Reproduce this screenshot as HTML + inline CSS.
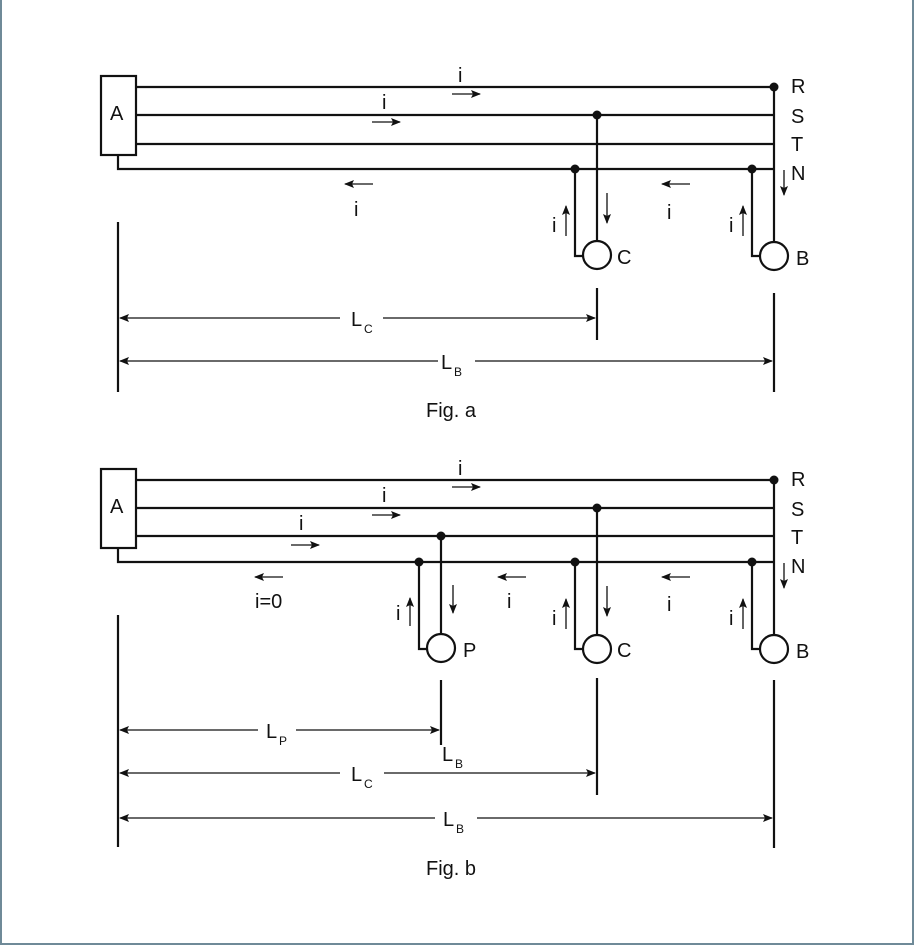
<!DOCTYPE html>
<html><head><style>
html,body{margin:0;padding:0;background:#fff}
.w{position:relative;width:910px;height:943px;border-left:2px solid #6f8a98;border-right:2px solid #6f8a98;border-bottom:2px solid #6f8a98;}
svg{position:absolute;left:-2px;top:0}
text{font-family:"Liberation Sans",sans-serif;font-size:20px;fill:#111}
</style></head><body><div class="w">
<svg width="914" height="945" viewBox="0 0 914 945">
<defs>
<marker id="ah" markerWidth="10" markerHeight="8" refX="9" refY="4" orient="auto" markerUnits="userSpaceOnUse"><path d="M0,0 L10,4 L0,8 L2,4 Z" fill="#111"/></marker>
</defs>
<g stroke="#111" stroke-width="2.2" fill="none">
<!-- Fig a -->
<rect x="101" y="76" width="35" height="79" fill="#fff"/>
<line x1="136" y1="87" x2="774" y2="87"/>
<line x1="136" y1="115" x2="774" y2="115"/>
<line x1="136" y1="144" x2="774" y2="144"/>
<polyline points="118,155 118,169 774,169"/>
<line x1="774" y1="87" x2="774" y2="242"/>
<line x1="597" y1="115" x2="597" y2="241"/>
<circle cx="597" cy="255" r="14"/>
<circle cx="774" cy="256" r="14"/>
<polyline points="575,169 575,256 583,256"/>
<polyline points="752,169 752,256 760,256"/>
<line x1="118" y1="222" x2="118" y2="392"/>
<line x1="597" y1="288" x2="597" y2="340"/>
<line x1="774" y1="293" x2="774" y2="392"/>
<!-- Fig b -->
<rect x="101" y="469" width="35" height="79" fill="#fff"/>
<line x1="136" y1="480" x2="774" y2="480"/>
<line x1="136" y1="508" x2="774" y2="508"/>
<line x1="136" y1="536" x2="774" y2="536"/>
<polyline points="118,548 118,562 774,562"/>
<line x1="774" y1="480" x2="774" y2="635"/>
<line x1="597" y1="508" x2="597" y2="634"/>
<line x1="441" y1="536" x2="441" y2="634"/>
<circle cx="441" cy="648" r="14"/>
<circle cx="597" cy="649" r="14"/>
<circle cx="774" cy="649" r="14"/>
<polyline points="419,562 419,649 427,649"/>
<polyline points="575,562 575,649 583,649"/>
<polyline points="752,562 752,649 760,649"/>
<line x1="118" y1="615" x2="118" y2="847"/>
<line x1="441" y1="680" x2="441" y2="745"/>
<line x1="597" y1="678" x2="597" y2="795"/>
<line x1="774" y1="680" x2="774" y2="848"/>
</g>
<g fill="#111">
<circle cx="774" cy="87" r="4.5"/><circle cx="597" cy="115" r="4.5"/><circle cx="575" cy="169" r="4.5"/><circle cx="752" cy="169" r="4.5"/>
<circle cx="774" cy="480" r="4.5"/><circle cx="597" cy="508" r="4.5"/><circle cx="441" cy="536" r="4.5"/><circle cx="419" cy="562" r="4.5"/><circle cx="575" cy="562" r="4.5"/><circle cx="752" cy="562" r="4.5"/>
</g>
<g stroke="#111" stroke-width="1.3" marker-end="url(#ah)">
<!-- fig a arrows -->
<line x1="452" y1="94" x2="480" y2="94"/>
<line x1="372" y1="122" x2="400" y2="122"/>
<line x1="373" y1="184" x2="345" y2="184"/>
<line x1="690" y1="184" x2="662" y2="184"/>
<line x1="607" y1="193" x2="607" y2="223"/>
<line x1="784" y1="170" x2="784" y2="195"/>
<line x1="566" y1="236" x2="566" y2="206"/>
<line x1="743" y1="236" x2="743" y2="206"/>
<line x1="340" y1="318" x2="120" y2="318"/>
<line x1="383" y1="318" x2="595" y2="318"/>
<line x1="438" y1="361" x2="120" y2="361"/>
<line x1="475" y1="361" x2="772" y2="361"/>
<!-- fig b arrows -->
<line x1="452" y1="487" x2="480" y2="487"/>
<line x1="372" y1="515" x2="400" y2="515"/>
<line x1="291" y1="545" x2="319" y2="545"/>
<line x1="283" y1="577" x2="255" y2="577"/>
<line x1="526" y1="577" x2="498" y2="577"/>
<line x1="690" y1="577" x2="662" y2="577"/>
<line x1="453" y1="585" x2="453" y2="613"/>
<line x1="607" y1="586" x2="607" y2="616"/>
<line x1="784" y1="563" x2="784" y2="588"/>
<line x1="410" y1="626" x2="410" y2="598"/>
<line x1="566" y1="629" x2="566" y2="599"/>
<line x1="743" y1="629" x2="743" y2="599"/>
<line x1="258" y1="730" x2="120" y2="730"/>
<line x1="296" y1="730" x2="439" y2="730"/>
<line x1="340" y1="773" x2="120" y2="773"/>
<line x1="384" y1="773" x2="595" y2="773"/>
<line x1="435" y1="818" x2="120" y2="818"/>
<line x1="477" y1="818" x2="772" y2="818"/>
</g>
<g>
<text x="110" y="120">A</text>
<text x="458" y="82">i</text><text x="382" y="109">i</text><text x="354" y="216">i</text><text x="667" y="219">i</text>
<text x="552" y="232">i</text><text x="729" y="232">i</text>
<text x="791" y="93">R</text><text x="791" y="123">S</text><text x="791" y="151">T</text><text x="791" y="180">N</text>
<text x="617" y="264">C</text><text x="796" y="265">B</text>
<text x="351" y="326">L</text><text x="364" y="333" style="font-size:12px">C</text>
<text x="441" y="369">L</text><text x="454" y="376" style="font-size:12px">B</text>
<text x="426" y="417">Fig. a</text>

<text x="110" y="513">A</text>
<text x="458" y="475">i</text><text x="382" y="502">i</text><text x="299" y="530">i</text>
<text x="255" y="608">i=0</text><text x="507" y="608">i</text><text x="667" y="611">i</text>
<text x="396" y="620">i</text><text x="552" y="625">i</text><text x="729" y="625">i</text>
<text x="791" y="486">R</text><text x="791" y="516">S</text><text x="791" y="544">T</text><text x="791" y="573">N</text>
<text x="463" y="657">P</text><text x="617" y="657">C</text><text x="796" y="658">B</text>
<text x="266" y="738">L</text><text x="279" y="745" style="font-size:12px">P</text>
<text x="442" y="761">L</text><text x="455" y="768" style="font-size:12px">B</text>
<text x="351" y="781">L</text><text x="364" y="788" style="font-size:12px">C</text>
<text x="443" y="826">L</text><text x="456" y="833" style="font-size:12px">B</text>
<text x="426" y="875">Fig. b</text>
</g>
</svg></div></body></html>
